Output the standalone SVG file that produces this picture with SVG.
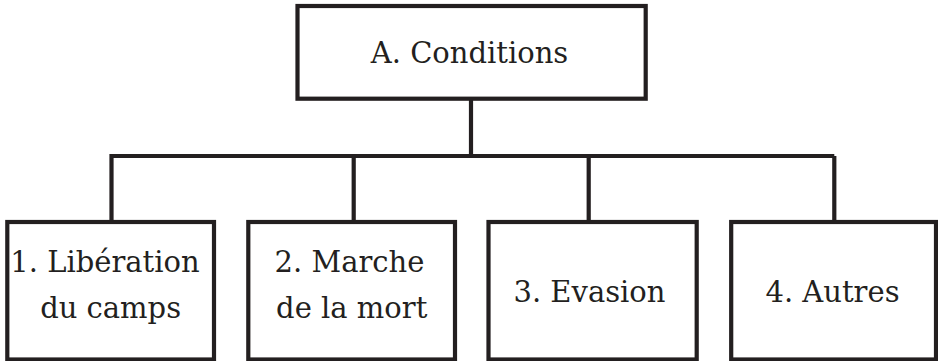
<svg xmlns="http://www.w3.org/2000/svg" width="938" height="361" viewBox="0 0 938 361">
<style>
.box{fill:#fff;stroke:#231f20;stroke-width:4.2}
.con{fill:none;stroke:#231f20;stroke-width:4.2}
text{font-family:'DejaVu Serif',serif;font-size:29px;fill:#231f20;text-anchor:middle}
</style>
<rect width="938" height="361" fill="#fff"/>
<g id="connectors">
<path class="con" d="M471 98.7V156M111.5 156H834.3M111.5 154V222M353.7 156V222M588.7 156V222M834.3 156V222"/>
</g>
<g id="nodeA">
<rect class="box" x="297.5" y="6" width="348.2" height="92.7"/>
<text x="469.5" y="63">A. Conditions</text>
</g>
<g id="node1">
<rect class="box" x="7.3" y="222" width="206.7" height="137.5"/>
<text x="105" y="271.5">1. Libération</text>
<text x="110.6" y="318">du camps</text>
</g>
<g id="node2">
<rect class="box" x="248.3" y="222" width="206.7" height="137.5"/>
<text x="349.5" y="271.5">2. Marche</text>
<text x="351.7" y="318">de la mort</text>
</g>
<g id="node3">
<rect class="box" x="488.5" y="222" width="208.2" height="137.5"/>
<text x="589.5" y="301.5">3. Evasion</text>
</g>
<g id="node4">
<rect class="box" x="731.2" y="222" width="204.8" height="137.5"/>
<text x="832.5" y="301.5">4. Autres</text>
</g>
</svg>
